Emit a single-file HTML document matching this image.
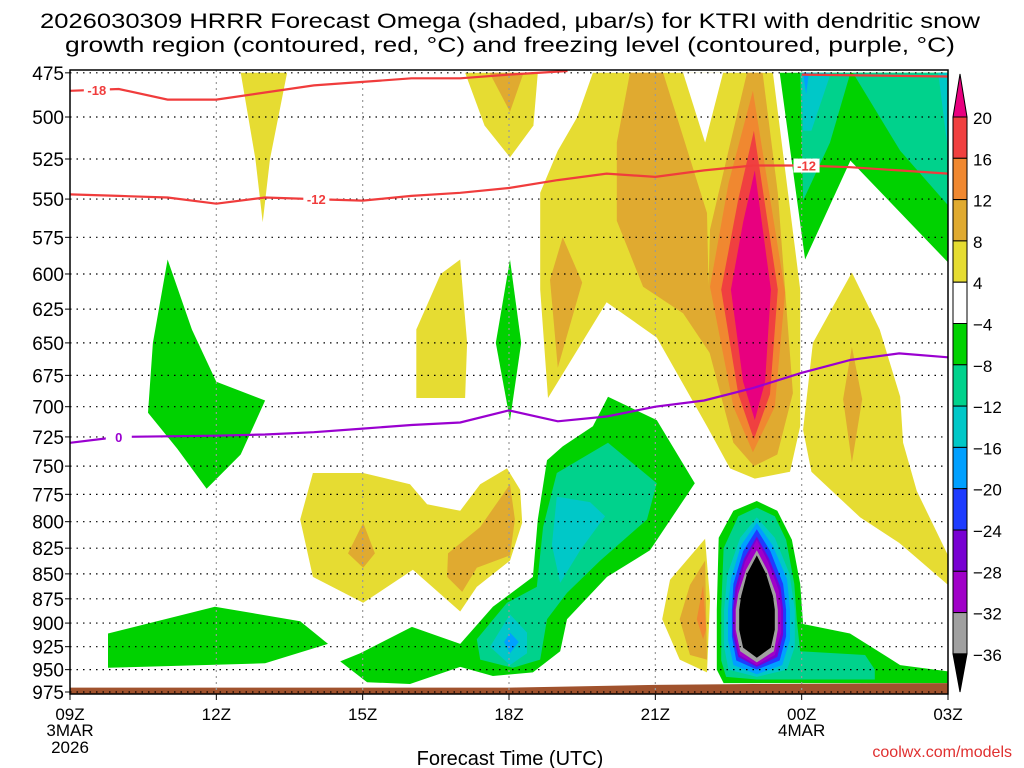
<!DOCTYPE html>
<html><head><meta charset="utf-8"><style>
html,body{margin:0;padding:0;background:#fff;}
svg{display:block;font-family:"Liberation Sans",sans-serif;}
</style></head><body>
<svg id="chart" width="1024" height="768" viewBox="0 0 1024 768">
<text x="510" y="28" font-size="21" text-anchor="middle" textLength="940" lengthAdjust="spacingAndGlyphs">2026030309 HRRR Forecast Omega (shaded, μbar/s) for KTRI with dendritic snow</text>
<text x="510" y="52" font-size="21" text-anchor="middle" textLength="890" lengthAdjust="spacingAndGlyphs">growth region (contoured, red, °C) and freezing level (contoured, purple, °C)</text>
<g id="fills"></g>
<g id="grid"></g>
<g id="lines"></g>
<g id="axes"></g>
<g id="cbar"></g>
<text x="510" y="765" font-size="20" text-anchor="middle">Forecast Time (UTC)</text>
<text x="1012" y="757" font-size="16" fill="#e03030" text-anchor="end">coolwx.com/models</text>
</svg>
<script>
const NS="http://www.w3.org/2000/svg";
const pTicks=[475,500,525,550,575,600,625,650,675,700,725,750,775,800,825,850,875,900,925,950,975];
const hourTicks=[0,3,6,9,12,15,18];
const hourLabels=["09Z","12Z","15Z","18Z","21Z","00Z","03Z"];
const cbLevels=[20,16,12,8,4,-4,-8,-12,-16,-20,-24,-28,-32,-36];
const cbColors=["#e8007f","#f04040","#f08830","#e0aa30","#e6dc32","#ffffff","#00d200","#00d28c","#00c8c8","#00a0ff","#1e3cff","#7800d2","#a000c8","#a0a0a0","#000000"];
// omega regions: [hours since 09Z, hPa]
const yellowBig=[[10.72,475],[14.41,475],[14.97,611],[14.97,716],[14.76,755],[14.04,761],[13.53,752],[13.06,716],[12.03,646],[11.0,620],[9.8,693],[9.64,611],[9.64,546],[10.0,520],[10.4,500]];
const whiteNotch=[[12.57,475],[13.39,475],[13.02,515]];
const yellowTop=[[8.1,475],[9.59,475],[9.5,505],[9.02,524],[8.5,505]];
const goldTop=[[8.6,475],[9.3,475],[9.02,497]];
const yellowSpike=[[3.5,475],[4.45,475],[4.1,525],[3.95,565],[3.8,525]];
const gold1=[[11.48,475],[12.16,475],[13.06,559],[13.12,658],[12.57,628],[11.75,609],[11.21,564],[11.21,515]];
const goldCore=[[13.88,475],[14.2,475],[14.51,546],[14.82,689],[14.5,740],[14.02,750],[13.6,730],[13.06,650],[13.12,570],[13.5,520]];
const gold2=[[10.1,575],[10.5,606],[10.0,669],[9.84,604]];
const orangeCore=[[14.0,485],[14.66,613],[14.45,700],[14.0,738],[13.6,700],[13.12,609],[13.5,540]];
const redCore=[[14.02,508],[14.51,611],[14.35,690],[14.02,727],[13.7,690],[13.35,611],[13.7,550]];
const pinkCore=[[14.04,532],[14.37,611],[14.25,680],[14.04,711],[13.8,680],[13.55,611],[13.8,565]];
const greenTopRight=[[14.55,475],[18,475],[18,592],[16.0,526],[15.07,590]];
const tealTopLeft=[[14.97,475],[16.0,475],[15.58,515],[15.03,551]];
const tealTopRight=[[16.05,475],[18,475],[18,554],[17.02,520]];
const cyanTop=[[15.0,475],[15.6,475],[15.2,508],[15.03,508]];
const cyanCorner=[[17.8,475],[18,475],[18,520]];
const blueSpike=[[15.03,475],[15.15,475],[15.09,487]];
const yellowRight=[[16.03,599],[16.6,640],[17.02,692],[17.08,730],[17.36,772],[18,832],[18,861],[17.0,820],[16.2,796],[15.2,755],[15.03,719],[15.23,650]];
const goldRight=[[16.03,653],[16.24,694],[16.03,747],[15.85,694]];
const yellowMid=[[7.1,693],[7.1,640],[7.6,600],[8.0,590],[8.14,650],[8.1,693]];
const greenThin=[[9.02,590],[9.25,650],[9.02,711],[8.73,650]];
const yellowLow=[[4.98,756],[6.01,756],[6.97,766],[7.32,784],[8.0,790],[8.41,766],[8.96,752],[9.23,771],[9.27,801],[9.02,837],[8.34,863],[8.0,888],[7.03,846],[6.01,879],[4.98,853],[4.72,798]];
const goldLowA=[[6.01,801],[6.25,830],[6.01,844],[5.7,830]];
const goldLowB=[[9.02,766],[9.12,798],[9.02,832],[8.34,844],[8.04,868],[7.73,853],[7.75,830],[8.41,805]];
const greenLeft=[[1.7,650],[2.0,590],[2.5,640],[3.0,680],[4.0,695],[3.5,740],[2.8,770],[2.2,735],[1.6,705]];
const greenStrip=[[0.78,911],[2.97,883],[4.72,898],[5.29,922],[4.0,943],[0.78,948]];
const greenBand=[[11.03,692],[12.03,711],[12.81,765],[11.89,827],[11.01,853],[10.19,896],[10.05,930],[9.49,953],[8.67,957],[8.0,947],[6.97,966],[6.09,964],[5.54,941],[5.95,932],[7.01,904],[8.0,922],[8.67,883],[9.49,853],[9.59,798],[9.78,745],[10.1,733],[10.72,716]];
const tealBand=[[11.03,730],[12.03,765],[11.83,798],[10.87,837],[10.19,869],[9.78,896],[9.64,939],[9.08,948],[8.41,939],[8.34,917],[8.96,879],[9.57,863],[9.7,805],[9.98,756]];
const cyanBand=[[9.98,777],[10.66,782],[10.97,795],[10.46,827],[10.05,859],[9.88,822]];
const cyanDot=[[9.02,891],[9.37,910],[9.37,932],[9.02,945],[8.61,925]];
const lblueDot=[[9.02,910],[9.2,920],[9.02,932],[8.9,920]];
const yellowSmall=[[13.02,816],[13.12,876],[13.06,953],[12.5,939],[12.14,896],[12.3,856]];
const goldSmall=[[13.02,837],[13.06,939],[12.71,934],[12.5,896],[12.71,861]];
const orangeSmall=[[12.98,861],[13.04,907],[12.98,917],[12.85,896]];
const sinkGreen=[[14.08,781],[13.6,790],[13.3,815],[13.26,886],[13.26,950],[13.4,965],[18,965],[18,952],[17.02,945],[15.99,911],[15.03,901],[14.97,860],[14.8,817],[14.5,790]];
const sinkTeal=[[14.08,787],[13.7,795],[13.4,825],[13.35,886],[13.35,940],[13.45,958],[14.08,961],[16.5,961],[16.5,950],[16.3,934],[14.97,930],[14.9,897],[14.85,860],[14.68,817],[14.45,795]];
const sinkCyan=[[14.08,796],[13.74,815],[13.48,850],[13.41,886],[13.41,925],[13.5,950],[14.08,958],[14.7,950],[14.86,925],[14.86,886],[14.75,850],[14.45,815]];
const sinkLblue=[[14.08,801],[13.76,822],[13.55,855],[13.49,886],[13.49,918],[13.6,945],[14.08,955],[14.6,945],[14.76,918],[14.76,886],[14.7,855],[14.4,822]];
const sinkBlue=[[14.08,807],[13.8,828],[13.6,860],[13.57,886],[13.57,914],[13.66,940],[14.08,950],[14.55,940],[14.68,914],[14.68,886],[14.62,860],[14.36,828]];
const sinkViolet=[[14.08,814],[13.82,835],[13.64,864],[13.59,886],[13.59,912],[13.7,936],[14.08,947],[14.5,936],[14.62,912],[14.62,886],[14.57,864],[14.33,835]];
const sinkPurple=[[14.08,817],[13.84,838],[13.68,866],[13.63,886],[13.63,910],[13.72,934],[14.08,945],[14.45,934],[14.58,910],[14.58,886],[14.53,866],[14.31,838]];
const sinkGray=[[14.08,827],[13.86,846],[13.7,870],[13.65,886],[13.65,907],[13.74,930],[14.08,942],[14.43,930],[14.51,907],[14.51,886],[14.47,870],[14.29,846]];
const sinkBlack=[[14.08,832],[13.88,850],[13.76,872],[13.72,886],[13.72,907],[13.8,926],[14.08,937],[14.37,926],[14.45,907],[14.45,886],[14.41,872],[14.27,850]];
const ground=[[0,970],[9,970],[10,969],[12,967],[14,966],[18,965]];
// contours
const dgz18=[[0,485],[1,484],[2,490],[3,490],[4,486],[5,482],[6,480],[7,478],[8,478],[9,476],[10.2,474]];
const dgz18b=[[15,476],[18,477]];
const dgz12=[[0,547],[1,548],[2,549],[3,553],[4,549],[5,550],[6,551],[7,548],[8,546],[9,543],[10,538],[11,534],[12,536],[13,532],[14,529],[15,529],[16,530],[17,532],[18,534]];
const frz0=[[0,730],[1,725],[3,724],[4,723],[5,721],[6,718],[7,715],[8,713],[9,703],[10,712],[11,708],[12,700],[13,695],[14,685],[15,673],[16,663],[17,658],[18,661]];

const X0=70,X1=948,PT=70,PB=694;
const xs=h=>X0+h*(X1-X0)/18;
const ys=p=>Math.max(PT,Math.min(PB,117+861*(Math.log(p)-Math.log(500))));
function el(tag,attrs,parent){const e=document.createElementNS(NS,tag);for(const k in attrs)e.setAttribute(k,attrs[k]);parent.appendChild(e);return e;}
const fills=document.getElementById('fills');
function poly(pts,color,name){
  const e=el('polygon',{points:pts.map(q=>xs(q[0]).toFixed(1)+','+ys(q[1]).toFixed(1)).join(' '),fill:color},fills);
  
  
}
const C={white:cbColors[5],pink:cbColors[0],red:cbColors[1],orange:cbColors[2],gold:cbColors[3],yellow:cbColors[4],green:cbColors[6],teal:cbColors[7],cyan:cbColors[8],lblue:cbColors[9],blue:cbColors[10],violet:cbColors[11],purple:cbColors[12],gray:cbColors[13],black:cbColors[14]};
const layers=[[yellowBig,'yellow','omega-4-8-upper'],[whiteNotch,'white','omega-notch'],[yellowTop,'yellow','omega-4-8-top'],[goldTop,'gold','omega-8-12-top'],[yellowSpike,'yellow','omega-4-8-spike'],[gold1,'gold','omega-8-12-upper'],[goldCore,'gold','omega-8-12-core'],[gold2,'gold','omega-8-12-mid'],[orangeCore,'orange','omega-12-16-core'],[redCore,'red','omega-16-20-core'],[pinkCore,'pink','omega-over-20-core'],
[greenTopRight,'green','omega-neg4-upper-right'],[tealTopLeft,'teal','omega-neg8-upper-left'],[tealTopRight,'teal','omega-neg8-upper-right'],[cyanTop,'cyan','omega-neg12-upper'],[cyanCorner,'cyan','omega-neg12-corner'],[blueSpike,'lblue','omega-neg16-spike'],
[yellowRight,'yellow','omega-4-8-right'],[goldRight,'gold','omega-8-12-right'],[yellowMid,'yellow','omega-4-8-mid'],[yellowLow,'yellow','omega-4-8-low'],[goldLowA,'gold','omega-8-12-low-a'],[goldLowB,'gold','omega-8-12-low-b'],
[greenLeft,'green','omega-neg4-left'],[greenThin,'green','omega-neg4-thin'],[greenStrip,'green','omega-neg4-strip'],[greenBand,'green','omega-neg4-band'],[tealBand,'teal','omega-neg8-band'],[cyanBand,'cyan','omega-neg12-band'],[cyanDot,'cyan','omega-neg12-dot'],[lblueDot,'lblue','omega-neg16-dot'],
[yellowSmall,'yellow','omega-4-8-small'],[goldSmall,'gold','omega-8-12-small'],[orangeSmall,'orange','omega-12-16-small'],
[sinkGreen,'green','sink-neg4'],[sinkTeal,'teal','sink-neg8'],[sinkCyan,'cyan','sink-neg12'],[sinkLblue,'lblue','sink-neg16'],[sinkBlue,'blue','sink-neg20'],[sinkViolet,'violet','sink-neg24'],[sinkPurple,'purple','sink-neg28'],[sinkGray,'gray','sink-neg32'],[sinkBlack,'black','sink-neg36']];
layers.forEach(l=>poly(l[0],C[l[1]],l[2]));
const gpts=ground.map(q=>[q[0],q[1]]).concat([[18,1000],[0,1000]]);
poly(gpts,'#a0522d','terrain');

const grid=document.getElementById('grid');
pTicks.forEach(p=>{const e=el('line',{x1:X0,x2:X1,y1:ys(p),y2:ys(p),stroke:'#000','stroke-width':1.2,'stroke-dasharray':'1.5 5'},grid);
});
hourTicks.slice(1,-1).forEach(h=>{const e=el('line',{x1:xs(h),x2:xs(h),y1:PT,y2:PB,stroke:'#999','stroke-width':1.2,'stroke-dasharray':'2 4'},grid);
});

const lines=document.getElementById('lines');
function pl(pts,color,name){const e=el('polyline',{points:pts.map(q=>xs(q[0]).toFixed(1)+','+ys(q[1]).toFixed(1)).join(' '),fill:'none',stroke:color,'stroke-width':2.2},lines);
}
pl(dgz18,'#f03c3c','dgz-minus18-line');pl(dgz18b,'#f03c3c','dgz-minus18-line-right');pl(dgz12,'#f03c3c','dgz-minus12-line');pl(frz0,'#9a00d0','freezing-level-line');
function lab(t,h,p,color,name){const bx=el('rect',{x:xs(h)-13,y:ys(p)-7,width:26,height:14,fill:'#fff'},lines);

const e=el('text',{x:xs(h),y:ys(p)+5,'font-size':13,'font-weight':'bold',fill:color,'text-anchor':'middle'},lines);e.textContent=t;
}
lab('-18',0.55,484.5,'#f03c3c','label-minus18');lab('-12',5.05,550,'#f03c3c','label-minus12-left');lab('-12',15.1,529,'#f03c3c','label-minus12-right');lab('0',1.0,725,'#9a00d0','label-freezing-0');

const axes=document.getElementById('axes');
let fr=el('rect',{x:X0,y:PT,width:X1-X0,height:PB-PT,fill:'none',stroke:'#000','stroke-width':1.5},axes);

pTicks.forEach(p=>{const y=ys(p);el('line',{x1:X0-5,x2:X0,y1:y,y2:y,stroke:'#000'},axes);
const t=el('text',{x:X0-6,y:y+7,'font-size':19,'text-anchor':'end'},axes);t.textContent=p;
});
hourTicks.forEach((h,i)=>{const x=xs(h);el('line',{x1:x,x2:x,y1:PB,y2:PB+6,stroke:'#000'},axes);
const t=el('text',{x:x,y:720,'font-size':17,'text-anchor':'middle'},axes);t.textContent=hourLabels[i];
});
[['3MAR',0,736],['2026',0,753],['4MAR',15,736]].forEach(a=>{const t=el('text',{x:xs(a[1]),y:a[2],'font-size':17,'text-anchor':'middle'},axes);t.textContent=a[0];
});

const cb=document.getElementById('cbar');
const cbx=953,cbw=14,cbTop=117,step=41.3;
const tri1=el('polygon',{points:`${cbx},${cbTop} ${cbx+cbw},${cbTop} ${cbx+cbw/2},74`,fill:cbColors[0],stroke:'#000'},cb);

for(let i=1;i<cbColors.length-1;i++){const r=el('rect',{x:cbx,y:cbTop+(i-1)*step,width:cbw,height:step,fill:cbColors[i],stroke:'#000','stroke-width':1},cb);
}
const cbBot=cbTop+(cbColors.length-2)*step;
const tri2=el('polygon',{points:`${cbx},${cbBot} ${cbx+cbw},${cbBot} ${cbx+cbw/2},692`,fill:'#000',stroke:'#000'},cb);

cbLevels.forEach((v,i)=>{const y=cbTop+i*step;const t=el('text',{x:cbx+cbw+6,y:y+7,'font-size':17},cb);t.textContent=v<0?'−'+(-v):v;
});
</script>
</body></html>
